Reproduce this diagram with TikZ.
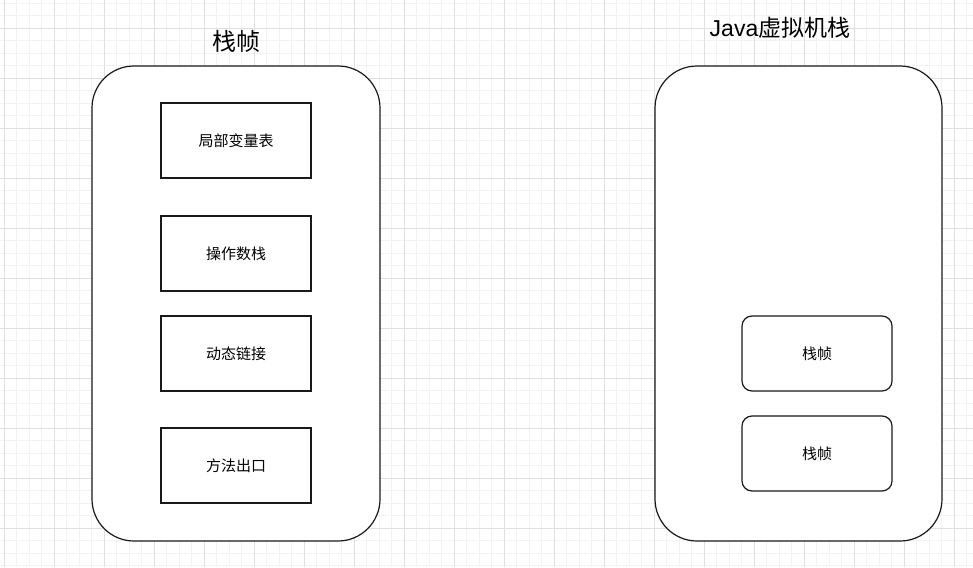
\documentclass[tikz,border=0pt]{standalone}
\usepackage{fontspec}
\setmainfont{Noto Sans CJK SC}
\newfontfamily\latinsans{Liberation Sans}
\begin{document}
\begin{tikzpicture}[x=1pt,y=-1pt,
  big/.style={draw=black!90,line width=1.2pt,rounded corners=42pt},
  part/.style={draw=black!90,line width=1.2pt,minimum width=150pt,minimum height=75pt,font=\fontsize{15}{17}\selectfont,inner sep=0pt},
  frame/.style={part,rounded corners=10pt},
  title/.style={font=\fontsize{23}{26}\selectfont,inner sep=0pt}]
\useasboundingbox (0,0) rectangle (973,567);
\fill[white] (0,0) rectangle (973,567);
% minor grid
\foreach \x in {-8.5,4,...,973} \draw[black!5,line width=0.8pt] (\x,0) -- (\x,567);
\foreach \y in {3,15.5,...,567} \draw[black!5,line width=0.8pt] (0,\y) -- (973,\y);
% major grid
\foreach \x in {4,54,...,973} \draw[black!12,line width=0.8pt] (\x,0) -- (\x,567);
\foreach \y in {28,78,...,567} \draw[black!12,line width=0.8pt] (0,\y) -- (973,\y);
% left
\filldraw[big,fill=white] (92,66) rectangle (380,541);
\node[title,font=\fontsize{24}{27}\selectfont] (t1) at (236,41) {栈帧};
\node[part] (a) at (236,140.5) {局部变量表};
\node[part] (b) at (236,253.5) {操作数栈};
\node[part] (c) at (236,353.5) {动态链接};
\node[part] (d) at (236,465.5) {方法出口};
% right
\filldraw[big,fill=white] (655,66) rectangle (942,541);
\node[title] (t2) at (780,28) {{\latinsans Java}虚拟机栈};
\node[frame] (f1) at (817,353.5) {栈帧};
\node[frame] (f2) at (817,453.5) {栈帧};
\end{tikzpicture}
\end{document}
